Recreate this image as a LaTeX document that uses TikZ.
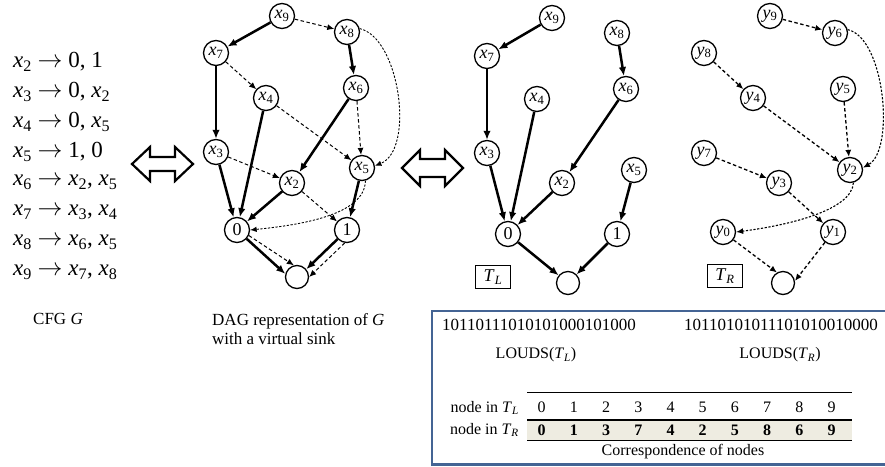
\documentclass[tikz,border=0pt]{standalone}
\usepackage{fontspec}
\setmainfont{Liberation Serif}
\usetikzlibrary{arrows.meta}
\newcommand{\vv}[2]{\textit{#1}\textsubscript{#2}}
\newcommand{\fs}[1]{\fontsize{#1}{#1}\selectfont}
\definecolor{boxblue}{RGB}{68,100,148}
\definecolor{beige}{RGB}{238,236,225}
\begin{document}
\begin{tikzpicture}[x=1pt,y=-1pt,
 vn/.style={circle,draw,line width=1.3pt,minimum size=25pt,inner sep=0pt,fill=white,font=\fs{18}},
 sk/.style={circle,draw,line width=1.3pt,minimum size=23pt,inner sep=0pt,fill=white},
 lft/.style={line width=2.5pt,-{Latex[length=9pt,width=7.5pt]}},
 rgt/.style={line width=1pt,dash pattern=on 3.5pt off 2.5pt,-{Latex[length=7pt,width=6pt]}},
 crv/.style={line width=0.9pt,dash pattern=on 2.2pt off 1.6pt,-{Latex[length=6.5pt,width=5.5pt]}},
 rgtR/.style={line width=1.3pt,dash pattern=on 3.5pt off 2.5pt,-{Latex[length=7pt,width=6pt]}},
 crvR/.style={line width=1.1pt,dash pattern=on 2.2pt off 1.6pt,-{Latex[length=7pt,width=6pt]}},
 cfg/.style={anchor=west,inner sep=0pt,font=\fs{23}},
 captxt/.style={inner sep=0pt,font=\fs{17}},
 tab/.style={inner sep=0pt,font=\fs{16}},
 lbl/.style={draw,line width=1.2pt,minimum width=35pt,minimum height=23pt,inner sep=0pt,font=\fs{18}},
 oarrow/.style={draw,line width=2.2pt,line join=miter,fill=white},
]
\useasboundingbox (0,0) rectangle (885,466);

% ---------- CFG ----------
\node[cfg] (c2) at (13,62)  {\vv{x}{2} $\rightarrow$ 0, 1};
\node[cfg] (c3) at (13,92)  {\vv{x}{3} $\rightarrow$ 0, \vv{x}{2}};
\node[cfg] (c4) at (13,122) {\vv{x}{4} $\rightarrow$ 0, \vv{x}{5}};
\node[cfg] (c5) at (13,152) {\vv{x}{5} $\rightarrow$ 1, 0};
\node[cfg] (c6) at (13,182) {\vv{x}{6} $\rightarrow$ \vv{x}{2}, \vv{x}{5}};
\node[cfg] (c7) at (13,212) {\vv{x}{7} $\rightarrow$ \vv{x}{3}, \vv{x}{4}};
\node[cfg] (c8) at (13,242) {\vv{x}{8} $\rightarrow$ \vv{x}{6}, \vv{x}{5}};
\node[cfg] (c9) at (13,272) {\vv{x}{9} $\rightarrow$ \vv{x}{7}, \vv{x}{8}};
\node[captxt] (capG) at (58,319) {CFG \textit{G}};

% ---------- outline double arrows ----------
\draw[oarrow] (132,164) -- (150,147) -- (150,157) -- (175,157) -- (175,147) -- (193,164)
  -- (175,181) -- (175,171) -- (150,171) -- (150,181) -- cycle;
\draw[oarrow] (402,168) -- (420,150) -- (420,159) -- (445,159) -- (445,150) -- (463,168)
  -- (445,186) -- (445,177) -- (420,177) -- (420,186) -- cycle;

% ---------- DAG ----------
\node[vn] (x9) at (282,16)  {\vv{x}{9}};
\node[vn] (x8) at (347,32)  {\vv{x}{8}};
\node[vn] (x7) at (216,53)  {\vv{x}{7}};
\node[vn] (x4) at (266,98)  {\vv{x}{4}};
\node[vn] (x6) at (356,88)  {\vv{x}{6}};
\node[vn] (x3) at (216,152) {\vv{x}{3}};
\node[vn] (x5) at (362,168) {\vv{x}{5}};
\node[vn] (x2) at (292,183) {\vv{x}{2}};
\node[vn] (d0) at (237,230) {0};
\node[vn] (d1) at (347,230) {1};
\node[sk] (dsink) at (297,277) {};

\draw[lft] (x9) -- (x7);
\draw[rgt] (x9) -- (x8);
\draw[lft] (x7) -- (x3);
\draw[rgt] (x7) -- (x4);
\draw[lft] (x8) -- (x6);
\draw[crv] (x8.15) .. controls (400,38) and (415,150) .. (x5.10);
\draw[lft] (x6) -- (x2);
\draw[rgt] (x6) -- (x5);
\draw[lft] (x4) -- (d0);
\draw[rgt] (x4) -- (x5);
\draw[lft] (x3) -- (d0);
\draw[rgt] (x3) -- (x2);
\draw[lft] (x2) -- (d0);
\draw[rgt] (x2) -- (d1);
\draw[lft] (x5) -- (d1);
\draw[crv] (x5.-75) .. controls (365,215) and (300,225) .. (d0.east);
\draw[lft] (d0) -- (dsink.165);
\draw[rgt] (d0.-25) -- (dsink.105);
\draw[lft] (d1) -- (dsink.40);
\draw[rgt] (d1.-100) -- (dsink.0);

\node[captxt,anchor=west] (capD1) at (212,321) {DAG representation of \textit{G}};
\node[captxt,anchor=west] (capD2) at (212,339) {with a virtual sink};

% ---------- T_L ----------
\node[vn] (lx9) at (552,18)  {\vv{x}{9}};
\node[vn] (lx8) at (617,33)  {\vv{x}{8}};
\node[vn] (lx7) at (487,56)  {\vv{x}{7}};
\node[vn] (lx6) at (626,89)  {\vv{x}{6}};
\node[vn] (lx4) at (537,99)  {\vv{x}{4}};
\node[vn] (lx3) at (487,153) {\vv{x}{3}};
\node[vn] (lx5) at (634,170) {\vv{x}{5}};
\node[vn] (lx2) at (562,183) {\vv{x}{2}};
\node[vn] (l0) at (508,234) {0};
\node[vn] (l1) at (617,234) {1};
\node[sk] (lsink) at (568,283) {};
\node[lbl] (TL) at (493,277) {\textit{T}\textsubscript{\textit{L}}};

\draw[lft] (lx9) -- (lx7);
\draw[lft] (lx7) -- (lx3);
\draw[lft] (lx3) -- (l0);
\draw[lft] (lx4) -- (l0);
\draw[lft] (lx2) -- (l0);
\draw[lft] (lx8) -- (lx6);
\draw[lft] (lx6) -- (lx2);
\draw[lft] (lx5) -- (l1);
\draw[lft] (l0) -- (lsink);
\draw[lft] (l1) -- (lsink);

% ---------- T_R ----------
\node[vn] (ry9) at (770,16)  {\vv{y}{9}};
\node[vn] (ry6) at (835,33)  {\vv{y}{6}};
\node[vn] (ry8) at (704,53)  {\vv{y}{8}};
\node[vn] (ry4) at (753,98)  {\vv{y}{4}};
\node[vn] (ry5) at (843,89)  {\vv{y}{5}};
\node[vn] (ry7) at (704,153) {\vv{y}{7}};
\node[vn] (ry2) at (850,170) {\vv{y}{2}};
\node[vn] (ry3) at (779,183) {\vv{y}{3}};
\node[vn] (ry0) at (723,232) {\vv{y}{0}};
\node[vn] (ry1) at (833,232) {\vv{y}{1}};
\node[sk] (rsink) at (783,283) {};
\node[lbl] (TR) at (725,276) {\textit{T}\textsubscript{\textit{R}}};

\draw[rgtR] (ry9) -- (ry6);
\draw[crvR] (ry6.15) .. controls (885,38) and (895,150) .. (ry2.10);
\draw[rgtR] (ry8) -- (ry4);
\draw[rgtR] (ry4) -- (ry2);
\draw[rgtR] (ry5) -- (ry2);
\draw[rgtR] (ry7) -- (ry3);
\draw[rgtR] (ry3) -- (ry1);
\draw[crvR] (ry2.-75) .. controls (852,210) and (790,225) .. (ry0.east);
\draw[rgtR] (ry0) -- (rsink.120);
\draw[rgtR] (ry1) -- (rsink.10);

% ---------- LOUDS box ----------
\draw[boxblue,line width=2.5pt] (432,311) rectangle (890,464.5);
\node[captxt] (sL) at (539,325) {10110111010101000101000};
\node[tab] (nL) at (536,355) {LOUDS(\textit{T}\textsubscript{\textit{L}})};
\node[captxt] (sR) at (781,325) {10110101011101010010000};
\node[tab] (nR) at (780,355) {LOUDS(\textit{T}\textsubscript{\textit{R}})};

\fill[beige] (527,420) rectangle (852,440);
\draw[line width=1.8pt] (527,392.5) -- (852,392.5);
\draw[line width=2pt] (527,420) -- (852,420);
\draw[line width=1.8pt] (527,440.5) -- (852,440.5);
\node[tab,anchor=east] (rowL) at (519,408) {node in \textit{T}\textsubscript{\textit{L}}};
\node[tab,anchor=east] (rowR) at (519,430) {node in \textit{T}\textsubscript{\textit{R}}};
\foreach \i/\v in {0/0,1/1,2/3,3/7,4/4,5/2,6/5,7/8,8/6,9/9}{
  \node[tab] (a\i) at ({541.7+32.2*\i},407) {\i};
  \node[tab,font=\fs{16}\bfseries] (b\i) at ({541.7+32.2*\i},430) {\v};
}
\node[tab] (corr) at (683,452) {Correspondence of nodes};
\end{tikzpicture}
\end{document}
